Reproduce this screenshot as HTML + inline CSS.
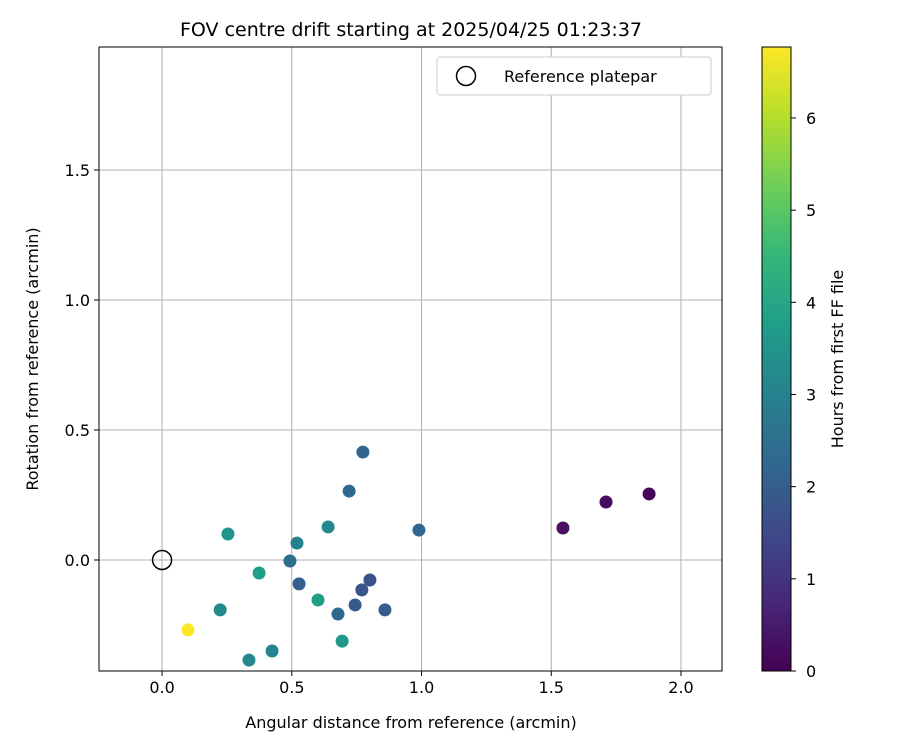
<!DOCTYPE html>
<html><head><meta charset="utf-8">
<style>
body{margin:0;background:#fff;font-family:"Liberation Sans","DejaVu Sans",sans-serif;}
svg text{font-family:"DejaVu Sans","Liberation Sans",sans-serif;}
</style></head>
<body>
<svg id="chart" width="900" height="750" viewBox="0 0 900 750" xmlns="http://www.w3.org/2000/svg"></svg>
<script>
const xVals=[1.877,1.711,1.545,0.774,0.721,0.990,0.640,0.520,0.254,0.493,0.374,0.528,0.801,0.770,0.601,0.678,0.744,0.859,0.224,0.100,0.694,0.424,0.335];
const yVals=[0.254,0.223,0.123,0.415,0.265,0.115,0.127,0.065,0.100,-0.004,-0.050,-0.092,-0.077,-0.115,-0.154,-0.208,-0.173,-0.192,-0.192,-0.269,-0.312,-0.350,-0.385];
const hours=[0.1,0.2,0.3,2.2,2.3,2.2,3.2,3.0,3.5,2.5,3.8,2.0,1.7,1.8,3.7,2.3,1.9,2.0,3.2,6.8,3.6,3.0,3.2];
const xTicks=[0.0,0.5,1.0,1.5,2.0];
const yTicks=[0.0,0.5,1.0,1.5];
const cTicks=[0,1,2,3,4,5,6];
const xMin=-0.243,xMax=2.158,yMin=-0.427,yMax=1.973,hMax=6.77;
const L=99,R=722,T=47,B=671;
const sx=v=>L+(v-xMin)/(xMax-xMin)*(R-L);
const sy=v=>B-(v-yMin)/(yMax-yMin)*(B-T);
const CL=762,CR=791;
const sc=v=>B-v/hMax*(B-T);
const vir=[[68,1,84],[72,40,120],[62,74,137],[49,104,142],[38,130,142],[31,158,137],[53,183,121],[110,206,88],[181,222,43],[253,231,37]];
function cmap(t){t=Math.max(0,Math.min(1,t));const p=t*(vir.length-1),i=Math.min(Math.floor(p),vir.length-2),f=p-i;
const c=vir[i].map((a,k)=>Math.round(a+(vir[i+1][k]-a)*f));return `rgb(${c[0]},${c[1]},${c[2]})`;}
const svg=document.getElementById('chart');const NS='http://www.w3.org/2000/svg';
function mk(tag,attrs,name,txt){const e=document.createElementNS(NS,tag);for(const k in attrs)e.setAttribute(k,attrs[k]);


if(txt!==undefined)e.textContent=txt;svg.appendChild(e);return e;}
// grid
xTicks.forEach(v=>{mk('line',{x1:sx(v),x2:sx(v),y1:T,y2:B,stroke:'#b0b0b0','stroke-width':1},'x-grid-line');
mk('line',{x1:sx(v),x2:sx(v),y1:B,y2:B+5,stroke:'#000'},'x-tick');
mk('text',{x:sx(v),y:B+22,'text-anchor':'middle','font-size':16},'x-tick-label',v.toFixed(1));});
yTicks.forEach(v=>{mk('line',{x1:L,x2:R,y1:sy(v),y2:sy(v),stroke:'#b0b0b0','stroke-width':1},'y-grid-line');
mk('line',{x1:L-5,x2:L,y1:sy(v),y2:sy(v),stroke:'#000'},'y-tick');
mk('text',{x:L-9,y:sy(v)+6,'text-anchor':'end','font-size':16},'y-tick-label',v.toFixed(1));});
// points
xVals.forEach((x,i)=>mk('circle',{cx:sx(x),cy:sy(yVals[i]),r:6.5,fill:cmap(hours[i]/hMax)},'data-point'));
mk('circle',{cx:sx(0),cy:sy(0),r:9.5,fill:'none',stroke:'#000','stroke-width':1.5},'reference-platepar-marker');
mk('rect',{x:L,y:T,width:R-L,height:B-T,fill:'none',stroke:'#000','stroke-width':1},'plot-frame');
// legend
mk('rect',{x:437,y:57,width:274,height:38,rx:3,fill:'#fff',stroke:'#ccc'},'legend-box');
mk('circle',{cx:466,cy:76,r:9.5,fill:'none',stroke:'#000','stroke-width':1.5},'legend-marker');
mk('text',{x:504,y:82,'font-size':16},'legend-label','Reference platepar');
// titles
mk('text',{x:411,y:36,'text-anchor':'middle','font-size':19},'chart-title','FOV centre drift starting at 2025/04/25 01:23:37');
mk('text',{x:411,y:728,'text-anchor':'middle','font-size':16},'x-axis-title','Angular distance from reference (arcmin)');
mk('text',{x:0,y:0,'text-anchor':'middle','font-size':16,transform:`translate(38,${(T+B)/2}) rotate(-90)`},'y-axis-title','Rotation from reference (arcmin)');
// colorbar
const defs=mk('defs',{},'defs');const g=document.createElementNS(NS,'linearGradient');g.setAttribute('id','vg');g.setAttribute('x1','0');g.setAttribute('y1','1');g.setAttribute('x2','0');g.setAttribute('y2','0');
vir.forEach((c,i)=>{const s=document.createElementNS(NS,'stop');s.setAttribute('offset',i/(vir.length-1));s.setAttribute('stop-color',`rgb(${c})`);g.appendChild(s);});defs.appendChild(g);
mk('rect',{x:CL,y:T,width:CR-CL,height:B-T,fill:'url(#vg)',stroke:'#000'},'colorbar');
cTicks.forEach(v=>{mk('line',{x1:CR,x2:CR+5,y1:sc(v),y2:sc(v),stroke:'#000'},'colorbar-tick');
mk('text',{x:CR+15,y:sc(v)+6,'font-size':16},'colorbar-tick-label',String(v));});
mk('text',{x:0,y:0,'text-anchor':'middle','font-size':16,transform:`translate(843,${(T+B)/2}) rotate(-90)`},'colorbar-title','Hours from first FF file');
</script>
</body></html>
